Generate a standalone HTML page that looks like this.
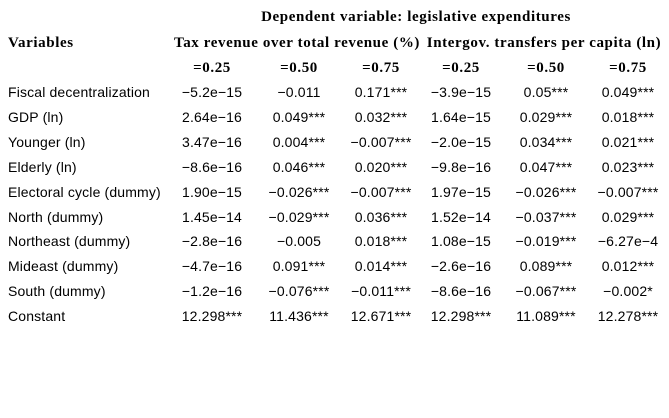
<!DOCTYPE html>
<html><head><meta charset="utf-8"><style>
body{margin:0;width:669px;height:418px;background:#fff;position:relative;overflow:hidden;color:#000}
.t{position:absolute;white-space:nowrap;transform:translateX(-50%);line-height:16px}
.h{font-family:"Liberation Serif",serif;font-weight:bold;font-size:15px;letter-spacing:0.6px}
.b{font-family:"Liberation Sans",sans-serif;font-size:14px;letter-spacing:0.15px}
.l{transform:none}
</style></head><body>
<div class="t h" style="left:416px;top:9px">Dependent variable: legislative expenditures</div>
<div class="t h l" style="left:8px;top:35px">Variables</div>
<div class="t h" style="left:297px;top:35px">Tax revenue over total revenue (%)</div>
<div class="t h" style="left:544px;top:35px">Intergov. transfers per capita (ln)</div>
<script>
const cols=[212,299,381,461,546,628];
const quantiles=["=0.25","=0.50","=0.75","=0.25","=0.50","=0.75"];
const vars=["Fiscal decentralization","GDP (ln)","Younger (ln)","Elderly (ln)","Electoral cycle (dummy)","North (dummy)","Northeast (dummy)","Mideast (dummy)","South (dummy)","Constant"];
const vals=[
["\u22125.2e\u221215","\u22120.011","0.171***","\u22123.9e\u221215","0.05***","0.049***"],
["2.64e\u221216","0.049***","0.032***","1.64e\u221215","0.029***","0.018***"],
["3.47e\u221216","0.004***","\u22120.007***","\u22122.0e\u221215","0.034***","0.021***"],
["\u22128.6e\u221216","0.046***","0.020***","\u22129.8e\u221216","0.047***","0.023***"],
["1.90e\u221215","\u22120.026***","\u22120.007***","1.97e\u221215","\u22120.026***","\u22120.007***"],
["1.45e\u221214","\u22120.029***","0.036***","1.52e\u221214","\u22120.037***","0.029***"],
["\u22122.8e\u221216","\u22120.005","0.018***","1.08e\u221215","\u22120.019***","\u22126.27e\u22124"],
["\u22124.7e\u221216","0.091***","0.014***","\u22122.6e\u221216","0.089***","0.012***"],
["\u22121.2e\u221216","\u22120.076***","\u22120.011***","\u22128.6e\u221216","\u22120.067***","\u22120.002*"],
["12.298***","11.436***","12.671***","12.298***","11.089***","12.278***"]];
const root=document.body;
function add(txt,cls,x,y){const d=document.createElement('div');d.className='t '+cls;d.style.left=x+'px';d.style.top=y+'px';d.textContent=txt;root.appendChild(d);return d;}
quantiles.forEach((q,i)=>{const d=add(q,'h',cols[i],60);

});
vars.forEach((v,r)=>{const y=84+r*24.9;
const d=add(v,'b l',8,y);


vals[r].forEach((c,i)=>{const e=add(c,'b',cols[i],y);

});});
</script>
</body></html>
